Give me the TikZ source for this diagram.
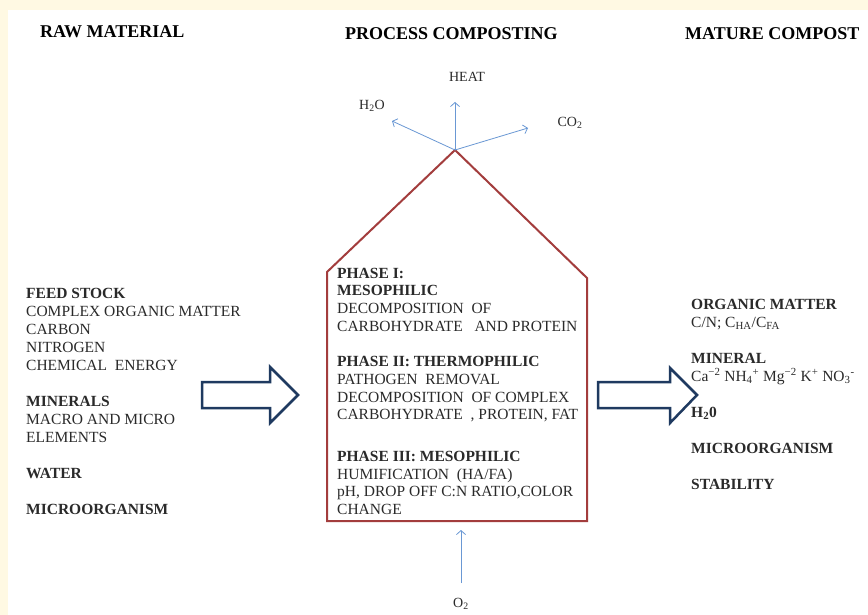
\documentclass[tikz,border=0pt]{standalone}
\usepackage{fontspec}
\setmainfont{Liberation Serif}
\usetikzlibrary{arrows.meta}
\definecolor{cream}{HTML}{FFF9E3}
\definecolor{boxred}{HTML}{A33D3D}
\definecolor{navy}{HTML}{1F3A60}
\definecolor{skyline}{HTML}{6A98D4}
\definecolor{bodytxt}{HTML}{2A2A2A}
\tikzset{
  header/.style={anchor=base west, inner sep=0pt, font=\fontsize{18}{21}\selectfont\bfseries, text=black},
  block/.style={anchor=base west, inner sep=0pt, align=left, text=bodytxt},
  smalllab/.style={inner sep=0pt, font=\fontsize{14}{16}\selectfont, text=bodytxt},
  gasarrow/.style={draw=skyline, line width=0.8pt, -{Straight Barb[length=4pt,width=9pt]}},
  bigarrow/.style={draw=navy, fill=white, line width=2.5pt, line join=miter},
  house/.style={draw=boxred, line width=2pt, line join=miter}
}
\begin{document}
\begin{tikzpicture}[x=1pt,y=-1pt]
\useasboundingbox (0,0) rectangle (868,615);
\fill[cream] (0,0) rectangle (868,615);
\fill[white] (8,10) rectangle (868,615);

% headers
\node[header] (hraw) at (40,38) {RAW MATERIAL};
\node[header] (hproc) at (345,40) {PROCESS COMPOSTING};
\node[header] (hmat) at (685,40) {MATURE COMPOST};

% house shape
\draw[house] (327,272) -- (455,150) -- (587,278) -- (587,521) -- (327,521) -- cycle;
\coordinate (apex) at (455,150);

% gas arrows
\coordinate (heatend) at (455,102);
\coordinate (waterend) at (392,121);
\coordinate (co2end) at (528,128);
\coordinate (o2start) at (461,583);
\coordinate (o2end) at (461,530);
\draw[gasarrow] (apex) -- (heatend);
\draw[gasarrow] (apex) -- (waterend);
\draw[gasarrow] (apex) -- (co2end);
\draw[gasarrow] (o2start) -- (o2end);
\node[smalllab] (heat) at (467,77) {HEAT};
\node[smalllab] (water) at (372,106) {H\textsubscript{2}O};
\node[smalllab] (co2) at (570,123) {CO\textsubscript{2}};
\node[smalllab] (o2) at (461,604) {O\textsubscript{2}};

% block arrows
\draw[bigarrow] (202,382) -- (270,382) -- (270,367) -- (298,395) -- (270,423) -- (270,408) -- (202,408) -- cycle;
\draw[bigarrow] (598,382) -- (670,382) -- (670,368) -- (697,395) -- (670,423) -- (670,408) -- (598,408) -- cycle;

% left column (anchored at the baseline of its last line)
\node[block, font=\fontsize{15.5}{18}\selectfont] (raw) at (26,514) {%
\textbf{FEED STOCK}\\
COMPLEX\ ORGANIC\ MATTER\\
CARBON\\
NITROGEN\\
CHEMICAL\ \ ENERGY\\[18pt]
\textbf{MINERALS}\\
MACRO AND MICRO\\
ELEMENTS\\[18pt]
\textbf{WATER}\\[18pt]
\textbf{MICROORGANISM}};

% process column
\node[block, font=\fontsize{15.5}{17.7}\selectfont] (proc) at (337,514.5) {%
\textbf{PHASE I:}\\
\textbf{MESOPHILIC}\\
DECOMPOSITION\ \ OF\\
CARBOHYDRATE\ \ \ AND PROTEIN\\[17.7pt]
\textbf{PHASE II: THERMOPHILIC}\\
PATHOGEN\ \ REMOVAL\\
DECOMPOSITION\ \ OF COMPLEX\\
CARBOHYDRATE\ \ , PROTEIN,\ FAT\\[24pt]
\textbf{PHASE III: MESOPHILIC}\\
HUMIFICATION\ \ (HA/FA)\\
pH, DROP OFF C:N RATIO,COLOR\\
CHANGE};

% right column
\node[block, font=\fontsize{15.5}{18}\selectfont] (mature) at (691,489) {%
\textbf{ORGANIC MATTER}\\
C/N; C\textsubscript{HA}/C\textsubscript{FA}\\[18pt]
\textbf{MINERAL}\\
Ca\textsuperscript{−2} NH\textsubscript{4}\textsuperscript{+} Mg\textsuperscript{−2} K\textsuperscript{+} NO\textsubscript{3}\textsuperscript{-}\\[18pt]
\textbf{H\textsubscript{2}0}\\[18pt]
\textbf{MICROORGANISM}\\[18pt]
\textbf{STABILITY}};
\end{tikzpicture}
\end{document}
